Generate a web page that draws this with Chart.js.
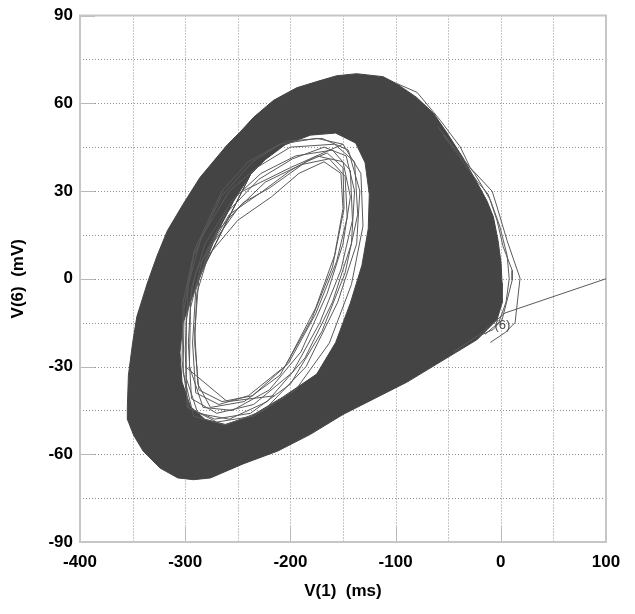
<!DOCTYPE html>
<html>
<head>
<meta charset="utf-8">
<script src="https://cdn.jsdelivr.net/npm/chart.js@4.4.1/dist/chart.umd.min.js"></script>
<style>
  html, body { margin: 0; padding: 0; background: #fff; }
  canvas { display: block; }
</style>
</head>
<body>
<canvas id="phase" width="635" height="614"></canvas>
<script>
// ticks (labelled) and the dotted minor lines between them
const xTicks = [-400, -300, -200, -100, 0, 100];
const yTicks = [-90, -60, -30, 0, 30, 60, 90];
const xMinor = [-350, -250, -150, -50, 50];
const yMinor = [-75, -45, -15, 15, 45, 75];

// outline of the dense band of orbits [V(1), V(6)]
const outerEdge = [
  [-355, -48], [-355, -44], [-354, -33], [-350, -22], [-346, -13], [-336, -1.5],
  [-327, 7.6], [-317, 16.4], [-302, 25.5], [-286, 34.6], [-260, 45.8], [-248, 50.1],
  [-235, 55.2], [-216, 61], [-194, 65.3], [-175, 67.4], [-156, 69.4], [-137, 70.1],
  [-112, 69.1], [-99, 66.7], [-80, 62], [-64, 56.6], [-51, 49.8], [-36, 41.4],
  [-20, 31.2], [-13, 26.5], [-7, 21.1], [-2.6, 13], [0.3, 5.2], [1.2, -1.5],
  [1.2, -8.3], [-3.6, -14], [-13, -17.4], [-22.5, -20.8], [-89, -35.3], [-150, -46.4],
  [-181, -53.2], [-212, -58.9], [-245, -63.3], [-276, -68.1], [-292, -68.7], [-307, -68.1],
  [-324, -64.7], [-340, -58.9], [-349, -53.5]
];

// inner edge of the solid band (the hole), going the other way round
const innerEdge = [
  [-238, 35.6], [-254, 26.5], [-270, 15.4], [-281, 5.2], [-292, -4.9], [-302, -15],
  [-305, -25.2], [-303, -35.3], [-295, -43.7], [-281, -48.1], [-262, -49.8], [-238, -47.1],
  [-207, -40.4], [-175, -32.6], [-157, -21.8], [-143, -8.3], [-132, 4.6], [-126, 17.1],
  [-125, 28.9], [-129, 39.7], [-138, 46.4], [-157, 49.8], [-181, 49.1], [-205, 45.8],
  [-224, 40.7]
];

// single orbits that stray into the hole
const loopA = [[-224, 33], [-190, 39], [-163, 41], [-148, 35], [-146, 21], [-156, 6], [-176, -12], [-202, -29], [-240, -40], [-268, -43], [-290, -39], [-293, -22], [-290, -4], [-278, 10], [-250, 24], [-224, 33]];
const loopB = [[-228, 36], [-195, 42], [-160, 44], [-143, 37], [-141, 20], [-152, 3], [-172, -15], [-198, -32], [-235, -43], [-270, -46], [-294, -41], [-297, -22], [-294, -3], [-281, 12], [-255, 27], [-228, 36]];
const loopC = [[-232, 38], [-200, 45], [-158, 46], [-139, 40], [-136, 22], [-148, 2], [-170, -18], [-200, -36], [-238, -46], [-272, -48], [-298, -44], [-300, -24], [-297, -2], [-285, 14], [-258, 30], [-232, 38]];
const loopD = [[-220, 31], [-185, 40], [-165, 43], [-150, 38], [-149, 24], [-160, 4], [-180, -14], [-210, -33], [-244, -42], [-276, -44], [-288, -36], [-291, -18], [-287, 0], [-270, 16], [-245, 26], [-220, 31]];
const loopE = [[-236, 40], [-205, 47], [-170, 48], [-145, 44], [-134, 30], [-137, 12], [-155, -8], [-185, -30], [-225, -45], [-262, -50], [-292, -47], [-302, -32], [-301, -10], [-292, 8], [-266, 28], [-236, 40]];
const loopF = [[-226, 30], [-200, 37], [-175, 42], [-150, 40], [-143, 28], [-150, 12], [-165, -5], [-190, -25], [-220, -38], [-255, -45], [-283, -44], [-296, -30], [-295, -10], [-284, 6], [-258, 22], [-226, 30]];
const loopG = [[-240, 40], [-210, 46], [-175, 48], [-150, 46], [-133, 36], [-131, 18], [-142, -2], [-163, -22], [-195, -38], [-235, -47], [-270, -49], [-297, -44], [-303, -28], [-302, -8], [-291, 10], [-265, 30], [-240, 40]];
const loopH = [[-218, 28], [-192, 36], [-168, 40], [-152, 36], [-150, 24], [-158, 8], [-176, -10], [-205, -30], [-236, -40], [-265, -42], [-287, -38], [-291, -22], [-289, -5], [-278, 8], [-250, 20], [-218, 28]];
const loopI = [[-230, 34], [-198, 41], [-168, 45], [-147, 42], [-139, 30], [-142, 12], [-160, -8], [-186, -27], [-222, -42], [-258, -48], [-288, -46], [-299, -34], [-299, -14], [-290, 2], [-262, 22], [-230, 34]];
const chordTop = [[-245, 30], [-200, 38], [-150, 46]];
const chordLow = [[-300, -30], [-260, -42], [-215, -40]];

// the few orbits that swing out on the right
const rightTrace1 = [[-98.5, 66.7], [-79.5, 63.7], [-57.6, 54.2], [-38.6, 45.1], [-29.1, 38], [-8.2, 29.9], [-3.5, 24.5], [6, 13], [18.3, 0.2], [16.4, -5.9], [13.6, -15], [4.1, -18.4], [-10, -21.8]];
const rightTrace2 = [[-54.6, 49.1], [-22.4, 33.3], [-12, 28.9], [-3.5, 19.8], [2.2, 11], [10.8, 2.9], [10.8, -0.5], [6, -7.3], [1.2, -14], [-7.4, -17.4], [-19.7, -19.4]];
const rightTrace3 = [[-60, 52], [-25, 36], [-10, 27], [-1, 18], [6, 8], [8, 0], [5, -8], [-2, -15], [-15, -19]];
const tailLine = [[100, 0], [4, -11.7], [-20, -19], [-45, -25]];

const curveLabel = { text: '(6)', x: 1.5, y: -16 };

const bandColor = '#444444';
const orbitColor = '#5a5a5a';

function toPoints(arr) {
  return arr.map(p => ({ x: p[0], y: p[1] }));
}

// one closed path: outer ring, then the hole traced backwards, so the hole stays empty
const bandPath = outerEdge.concat([outerEdge[0]], innerEdge, [innerEdge[0], outerEdge[0]]);

const gridPlugin = {
  id: 'dottedGrid',
  beforeDatasetsDraw(chart) {
    const { ctx, chartArea: a, scales: { x, y } } = chart;
    ctx.save();
    ctx.lineWidth = 1;
    ctx.strokeStyle = '#8f8f8f';
    ctx.setLineDash([1, 2]);
    xTicks.concat(xMinor).forEach(v => {
      const px = Math.round(x.getPixelForValue(v)) + 0.5;
      if (px <= a.left + 2 || px >= a.right - 2) return;
      ctx.beginPath(); ctx.moveTo(px, a.top); ctx.lineTo(px, a.bottom); ctx.stroke();
    });
    yTicks.concat(yMinor).forEach(v => {
      const py = Math.round(y.getPixelForValue(v)) + 0.5;
      if (py <= a.top + 2 || py >= a.bottom - 2) return;
      ctx.beginPath(); ctx.moveTo(a.left, py); ctx.lineTo(a.right, py); ctx.stroke();
    });
    // short solid marks on the major ticks
    ctx.setLineDash([]);
    ctx.strokeStyle = '#b8b8b8';
    xTicks.forEach(v => {
      const px = Math.round(x.getPixelForValue(v)) + 0.5;
      ctx.beginPath(); ctx.moveTo(px, a.bottom); ctx.lineTo(px, a.bottom - 15); ctx.stroke();
    });
    yTicks.forEach(v => {
      const py = Math.round(y.getPixelForValue(v)) + 0.5;
      ctx.beginPath(); ctx.moveTo(a.left, py); ctx.lineTo(a.left + 15, py); ctx.stroke();
    });
    ctx.lineWidth = 2;
    ctx.strokeStyle = '#c6c6c6';
    ctx.strokeRect(a.left, a.top, a.width, a.height);
    ctx.restore();
  }
};

const labelPlugin = {
  id: 'curveLabel',
  afterDatasetsDraw(chart) {
    const { ctx, scales: { x, y } } = chart;
    ctx.save();
    ctx.font = '13px "Liberation Sans", Arial, sans-serif';
    ctx.fillStyle = '#4a4a4a';
    ctx.textAlign = 'center';
    ctx.textBaseline = 'middle';
    ctx.fillText(curveLabel.text, x.getPixelForValue(curveLabel.x), y.getPixelForValue(curveLabel.y));
    ctx.restore();
  }
};

function orbit(arr) {
  return {
    data: toPoints(arr),
    borderColor: orbitColor,
    borderWidth: 1,
    pointRadius: 0,
    tension: 0,
    fill: false,
    order: 1
  };
}

const tickFont = { family: '"Liberation Sans", Arial, sans-serif', size: 17, weight: 'bold', lineHeight: 1 };
const titleFont = { family: '"Liberation Sans", Arial, sans-serif', size: 17, weight: 'bold' };

new Chart(document.getElementById('phase'), {
  type: 'line',
  data: {
    datasets: [
      orbit(loopA), orbit(loopB), orbit(loopC), orbit(loopD), orbit(loopE), orbit(loopF),
      orbit(loopG), orbit(loopH), orbit(loopI), orbit(chordTop), orbit(chordLow),
      orbit(rightTrace1), orbit(rightTrace2), orbit(rightTrace3), orbit(tailLine),
      {
        data: toPoints(bandPath),
        borderColor: bandColor,
        backgroundColor: bandColor,
        borderWidth: 1,
        pointRadius: 0,
        tension: 0,
        fill: 'shape',
        order: 2
      }
    ]
  },
  options: {
    responsive: false,
    animation: false,
    devicePixelRatio: 1,
    layout: { padding: { left: 0, right: 29, top: 9, bottom: 0 } },
    plugins: {
      legend: { display: false },
      tooltip: { enabled: false }
    },
    scales: {
      x: {
        type: 'linear',
        min: -400,
        max: 100,
        afterBuildTicks: s => { s.ticks = xTicks.map(v => ({ value: v })); },
        afterFit: s => { s.height = 72; },
        grid: { display: false, drawTicks: false },
        border: { display: false },
        ticks: { color: '#000', font: tickFont, padding: 12, maxRotation: 0 },
        title: { display: true, text: 'V(1)  (ms)', color: '#000', font: titleFont, padding: { top: 0, bottom: 12 } }
      },
      y: {
        type: 'linear',
        min: -90,
        max: 90,
        afterBuildTicks: s => { s.ticks = yTicks.map(v => ({ value: v })); },
        afterFit: s => { s.width = 80; },
        grid: { display: false, drawTicks: false },
        border: { display: false },
        ticks: { color: '#000', font: tickFont, padding: 7 },
        title: { display: true, text: 'V(6)  (mV)', color: '#000', font: titleFont, padding: { top: 8, bottom: 0 } }
      }
    }
  },
  plugins: [gridPlugin, labelPlugin]
});
</script>
</body>
</html>
